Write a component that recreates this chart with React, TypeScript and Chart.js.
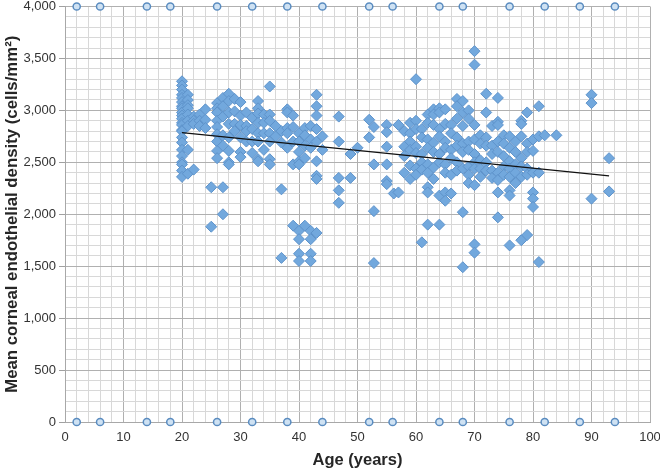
import React, { useEffect, useRef } from "react";
import { Chart, registerables } from "chart.js";

Chart.register(...registerables);

// Each row: [age (years), densities (cells/mm²) observed at that age]
const ages20s: [number, number[]][] = [
  [20, [3280, 3240, 3200, 3150, 3120, 3080, 3040, 3020, 2980, 2950, 2920, 2880, 2860, 2810, 2800, 2740, 2690, 2620, 2560, 2500, 2480, 2420, 2360]],
  [21, [3150, 3100, 3050, 3020, 2960, 2900, 2850, 2620, 2390]],
  [22, [2940, 2900, 2870, 2430]],
  [23, [2960, 2900, 2850]],
  [24, [3010, 2910, 2830]],
  [25, [2260, 1880]],
  [26, [3070, 3020, 2980, 2900, 2840, 2770, 2700, 2610, 2540]],
  [27, [3120, 3040, 2940, 2760, 2660, 2260, 2000]],
  [28, [3160, 3090, 2980, 2870, 2740, 2610, 2500, 2480]],
  [29, [3110, 2990, 2870, 2800]],
];

const ages30s: [number, number[]][] = [
  [30, [3080, 2950, 2860, 2740, 2600, 2550]],
  [31, [2980, 2850, 2800, 2700]],
  [32, [2930, 2820, 2700, 2590]],
  [33, [3090, 3020, 2970, 2880, 2780, 2700, 2530, 2510]],
  [34, [2960, 2880, 2780, 2620]],
  [35, [3230, 2960, 2900, 2780, 2700, 2530, 2480]],
  [36, [2850, 2750]],
  [37, [2800, 2690, 2240, 1580]],
  [38, [3010, 2980, 2830, 2780, 2640]],
  [39, [2950, 2840, 2700, 2480, 1890]],
];

const ages40s: [number, number[]][] = [
  [40, [2780, 2700, 2600, 2510, 2480, 1840, 1760, 1620, 1550]],
  [41, [2830, 2760, 2660, 2540, 1890]],
  [42, [2850, 2720, 2640, 1840, 1760, 1620, 1550]],
  [43, [3150, 3040, 2950, 2820, 2700, 2510, 2370, 2340, 1820]],
  [44, [2750, 2620]],
  [46.8, [2940, 2700, 2350, 2230, 2110]],
  [48.8, [2580, 2350]],
];

const ages50s: [number, number[]][] = [
  [50, [2640]],
  [52, [2910, 2740]],
  [52.8, [2840, 2480, 2030, 1530]],
  [55, [2860, 2790, 2650, 2480, 2320, 2290]],
  [56.2, [2200]],
  [57, [2860, 2210]],
  [58, [2800, 2650, 2560, 2400]],
  [59, [2880, 2780, 2700, 2620, 2470, 2340]],
];

const ages60s: [number, number[]][] = [
  [60, [3300, 2900, 2820, 2650, 2590, 2440, 2380]],
  [61, [2820, 2740, 2580, 2500, 2430, 1730]],
  [62, [2960, 2880, 2720, 2640, 2480, 2400, 2260, 2210, 1900]],
  [63, [3010, 2960, 2860, 2690, 2600, 2450, 2340]],
  [64, [3020, 2980, 2820, 2750, 2580, 2500, 2180, 1900]],
  [65, [3010, 2870, 2700, 2640, 2480, 2400, 2210, 2130]],
  [66, [2860, 2780, 2620, 2540, 2380, 2200]],
  [67, [3110, 3040, 2920, 2740, 2660, 2500, 2420]],
  [68, [3090, 2980, 2850, 2680, 2600, 2440, 2020, 1490]],
  [69, [3000, 2920, 2700, 2620, 2460, 2380, 2300]],
];

const ages70s: [number, number[]][] = [
  [70, [3570, 3440, 2860, 2720, 2580, 2500, 2440, 2280, 1710, 1630]],
  [71, [2760, 2680, 2520, 2440, 2360]],
  [72, [3160, 2980, 2740, 2660, 2500, 2420]],
  [73, [2850, 2660, 2580, 2420, 2350]],
  [74, [3120, 2890, 2860, 2700, 2600, 2400, 2330, 2210, 1970]],
  [75, [2760, 2680, 2560, 2460, 2380]],
  [76, [2750, 2640, 2510, 2440, 2360, 2230, 2180, 1700]],
  [77, [2700, 2600, 2480, 2400, 2300]],
  [78, [2900, 2870, 2750, 2540, 2460, 2360, 1750]],
  [79, [2980, 2680, 2600, 2440, 2380, 1800]],
];

const ages80plus: [number, number[]][] = [
  [80, [2720, 2610, 2400, 2210, 2150, 2070]],
  [81, [3040, 2750, 2400, 1540]],
  [82, [2760]],
  [84, [2760]],
  [90, [3150, 3070, 2150]],
  [93, [2540, 2220]],
];

// Linear trend line, read at its two ends
const trendAges = [20, 93];
const trendDensities = [2785, 2370];

// Open-circle markers sitting on the top and bottom edges
const edgeMarkerAges = [2, 6, 14, 18, 26, 32, 38, 44, 52, 56, 64, 68, 76, 82, 88, 94];
const edgeMarkerLevels = [0, 4000];

const xTitle = "Age (years)";
const yTitle = "Mean corneal endothelial density (cells/mm²)";

const FONT = "'Liberation Sans', Arial, sans-serif";

export default function App() {
  const ref = useRef<HTMLCanvasElement | null>(null);

  useEffect(() => {
    if (!ref.current) return;
    const groups = [...ages20s, ...ages30s, ...ages40s, ...ages50s, ...ages60s, ...ages70s, ...ages80plus];
    const scatterPts = groups.flatMap(([age, ds]) => ds.map((d) => ({ x: age, y: d })));
    const trendPts = trendAges.map((a, i) => ({ x: a, y: trendDensities[i] }));
    const edgePts = edgeMarkerLevels.flatMap((lvl) => edgeMarkerAges.map((a) => ({ x: a, y: lvl })));

    const major = "#b0b0b0";
    const minor = "#d8d8d8";

    const chart = new Chart(ref.current, {
      type: "scatter",
      data: {
        datasets: [
          {
            type: "line",
            data: trendPts,
            borderColor: "#111111",
            borderWidth: 1.2,
            pointRadius: 0,
            fill: false,
            order: 0,
          } as any,
          {
            data: edgePts,
            pointStyle: "circle",
            pointRadius: 3.6,
            backgroundColor: "#cfe2f3",
            borderColor: "#5a8cc0",
            borderWidth: 1.5,
            clip: false,
            order: 1,
          } as any,
          {
            data: scatterPts,
            pointStyle: "rectRot",
            pointRadius: 5.5,
            backgroundColor: "#72a8dd",
            borderColor: "#5e93cb",
            borderWidth: 1,
            order: 2,
          } as any,
        ],
      },
      options: {
        responsive: false,
        animation: false,
        events: [],
        layout: { padding: { left: 0, right: 10, top: 0, bottom: 0 } },
        plugins: { legend: { display: false }, tooltip: { enabled: false } },
        scales: {
          x: {
            type: "linear",
            min: 0,
            max: 100,
            afterFit: (s: any) => {
              s.height = 49;
              s.paddingLeft = 0;
              s.paddingRight = 0;
            },
            border: { display: true, color: "#a8a8a8" },
            grid: {
              drawTicks: false,
              color: (c: any) => (c.tick && c.tick.value % 10 === 0 ? major : minor),
            },
            ticks: {
              stepSize: 2,
              autoSkip: false,
              maxRotation: 0,
              padding: 8,
              color: "#333333",
              font: { family: FONT, size: 13 },
              callback: (v: any) => (Number(v) % 10 === 0 ? String(v) : ""),
            },
            title: {
              display: true,
              text: xTitle,
              color: "#262626",
              font: { family: FONT, size: 16.5, weight: "bold" },
              padding: { top: 0, bottom: 1 },
            },
          },
          y: {
            type: "linear",
            min: 0,
            max: 4000,
            afterFit: (s: any) => {
              s.width = 65;
              s.paddingTop = 5;
              s.paddingBottom = 0;
            },
            border: { display: true, color: "#a8a8a8" },
            grid: {
              tickLength: 6,
              color: (c: any) => (c.tick && c.tick.value % 500 === 0 ? major : minor),
              tickColor: (c: any) => (c.tick && c.tick.value % 500 === 0 ? "#a0a0a0" : "rgba(0,0,0,0)"),
            },
            ticks: {
              stepSize: 100,
              autoSkip: false,
              padding: 3,
              color: "#333333",
              font: { family: FONT, size: 13 },
              callback: (v: any) => (Number(v) % 500 === 0 ? Number(v).toLocaleString("en-US") : ""),
            },
            title: {
              display: true,
              text: yTitle,
              color: "#262626",
              font: { family: FONT, size: 16.8, weight: "bold" },
              padding: { top: 2, bottom: 0 },
            },
          },
        },
      } as any,
    });
    return () => chart.destroy();
  }, []);

  return (
    <div style={{ position: "fixed", left: 0, top: 0, width: 660, height: 471, background: "#ffffff" }}>
      <canvas ref={ref} width={660} height={471} style={{ display: "block", width: 660, height: 471 }} />
    </div>
  );
}
